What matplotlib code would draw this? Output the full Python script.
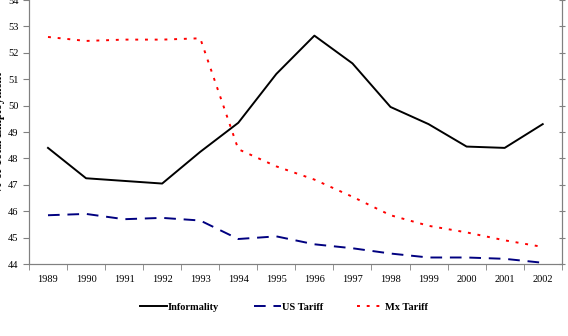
import numpy as np
import matplotlib
matplotlib.use("Agg")
import matplotlib.pyplot as plt

plt.rcParams['font.family'] = ['Liberation Serif', 'DejaVu Serif']

years = ['1989', '1990', '1991', '1992', '1993', '1994', '1995', '1996',
         '1997', '1998', '1999', '2000', '2001', '2002']
informality = [48.4, 47.25, 47.15, 47.05, 48.25, 49.35, 51.2, 52.65,
               51.6, 49.95, 49.3, 48.45, 48.4, 49.3]
us_tariff = [45.85, 45.9, 45.7, 45.75, 45.65, 44.95, 45.05, 44.75,
             44.6, 44.4, 44.25, 44.25, 44.2, 44.05]
mx_tariff = [52.6, 52.45, 52.5, 52.5, 52.55, 48.35, 47.7, 47.2,
             46.55, 45.85, 45.45, 45.2, 44.9, 44.65]

fig = plt.figure(figsize=(5.68, 3.36), dpi=100)
ax = fig.add_axes([0.051, 0.214, 0.938, 0.786])

x = np.arange(len(years))
ax.plot(x, informality, color='black', lw=1.4, label='Informality')
ax.plot(x, us_tariff, color='#000080', lw=1.4, dashes=(6, 4), label='US Tariff')
ax.plot(x, mx_tariff, color='#ff0000', lw=1.4, dashes=(1.5, 3.5), label='Mx Tariff')

ax.set_xlim(-0.5, len(years) - 0.5)
ax.set_ylim(44, 54)
ax.set_yticks(np.arange(44, 55, 1))
ax.set_xticks(x)
ax.set_xticklabels(years, fontsize=7.5)
ax.set_xticks(np.arange(-0.5, len(years), 1), minor=True)
ax.tick_params(axis='x', which='major', length=0, pad=8)
ax.tick_params(axis='x', which='minor', length=4, color='#808080', direction='out')
ax.tick_params(axis='y', labelsize=7.5, length=4, color='#808080', direction='out')

ax.spines['top'].set_visible(False)
for side in ['left', 'bottom', 'right']:
    ax.spines[side].set_color('#808080')

# right axis: tick marks only
ax2 = ax.twinx()
ax2.set_ylim(44, 54)
ax2.set_yticks(np.arange(44, 55, 1))
ax2.tick_params(axis='y', length=5, color='#808080', direction='inout', labelright=False)
ax2.spines['top'].set_visible(False)
for side in ['left', 'bottom', 'right']:
    ax2.spines[side].set_color('#808080')

ax.set_ylabel('% of Total Employment', fontsize=8.5, fontweight='bold', labelpad=2)

ax.legend(loc='upper center', bbox_to_anchor=(0.5, 0.127), bbox_transform=fig.transFigure,
          ncol=3, frameon=False, handlelength=2.6, handletextpad=0.1,
          columnspacing=3.3, prop={'weight': 'bold', 'size': 7.5})

fig.savefig('out.png', dpi=100)
